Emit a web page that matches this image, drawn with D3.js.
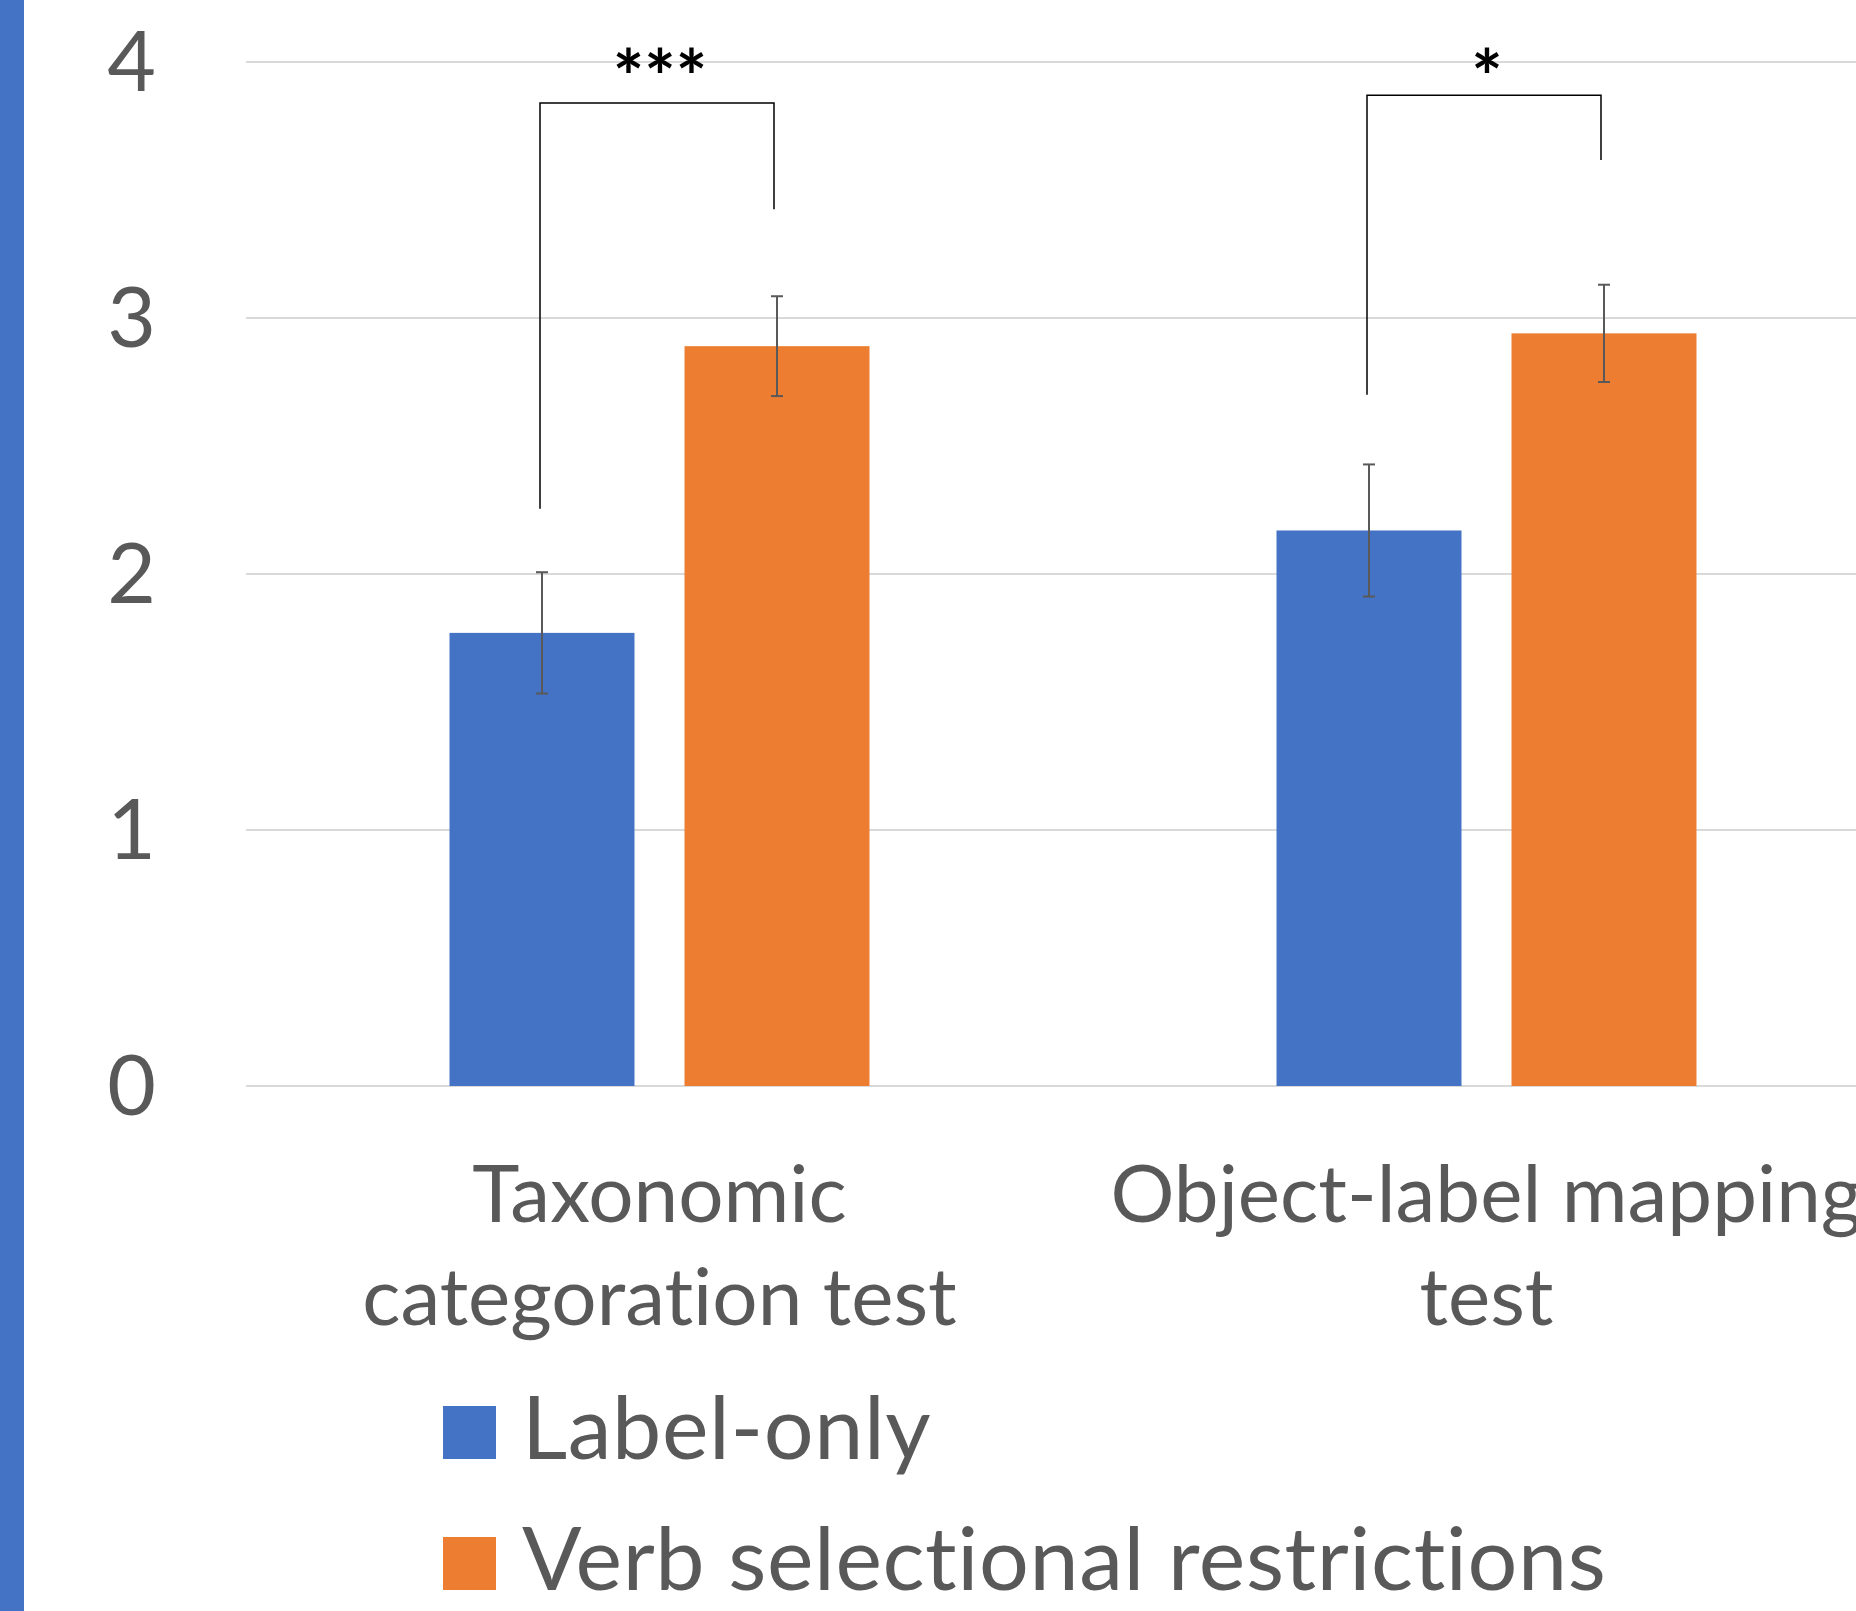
<!DOCTYPE html>
<html>
<head>
<meta charset="utf-8">
<script src="https://cdn.jsdelivr.net/npm/d3@7"></script>
<style>
    html, body { margin: 0; padding: 0; background: #ffffff; }
    svg { display: block; }
    text { font-variant-ligatures: none; font-feature-settings: "liga" 0, "clig" 0; }
</style>
</head>
<body>
<div id="chart"></div>
<script>
// Chart data
const categories = ['Taxonomic categoration test', 'Object-label mapping test'];
const categoryLines = [['Taxonomic', 'categoration test'], ['Object-label mapping', 'test']];
const seriesNames = ['Label-only', 'Verb selectional restrictions'];
const labelOnlyValues = [1.77, 2.17];
const labelOnlyErrors = [0.237, 0.258];
const verbValues = [2.89, 2.94];
const verbErrors = [0.195, 0.19];
const yTicks = [0, 1, 2, 3, 4];

// significance brackets (in value units)
const sigLabels = ['***', '*'];
const sigTop = [3.84, 3.87];
const sigLeftEnd = [2.255, 2.70];
const sigRightEnd = [3.425, 3.617];

function renderBarChart(containerId) {
    // ============================================================================
    // STEP 1: SETUP
    // ============================================================================
    const container = d3.select(`#${containerId}`);
    container.selectAll('*').remove();

    const width = 1856;
    const height = 1611;
    const font = 'Lato, "Open Sans", sans-serif';
    const textColor = '#595959';

    const svg = container.append('svg')
        .attr('width', width)
        .attr('height', height);

    svg.append('rect')
        .attr('width', width)
        .attr('height', height)
        .attr('fill', '#ffffff');

    // blue strip on the left edge
    svg.append('rect')
        .attr('x', 0)
        .attr('y', 0)
        .attr('width', 24)
        .attr('height', height)
        .attr('fill', '#4472C4');

    // ============================================================================
    // STEP 2: SCALES
    // ============================================================================
    const y = d3.scaleLinear()
        .domain([0, 4])
        .range([1086, 62]);

    const x0 = d3.scaleBand()
        .domain(categories)
        .range([246, 1900])
        .padding(0);

    const x1 = d3.scaleBand()
        .domain(seriesNames)
        .range([0, x0.bandwidth()])
        .paddingInner(0.2128)
        .paddingOuter(0.866);

    const color = d3.scaleOrdinal()
        .domain(seriesNames)
        .range(['#4472C4', '#ED7D31']);

    const rows = categories.map((c, i) => ({
        category: c,
        values: [
            { series: seriesNames[0], value: labelOnlyValues[i], err: labelOnlyErrors[i] },
            { series: seriesNames[1], value: verbValues[i], err: verbErrors[i] }
        ]
    }));

    // ============================================================================
    // STEP 3: GRIDLINES AND Y TICK LABELS
    // ============================================================================
    svg.append('g')
        .selectAll('line')
        .data(yTicks)
        .enter()
        .append('line')
        .attr('x1', 246)
        .attr('x2', width)
        .attr('y1', d => y(d))
        .attr('y2', d => y(d))
        .attr('stroke', '#D9D9D9')
        .attr('stroke-width', 2);

    svg.append('g')
        .selectAll('text')
        .data(yTicks)
        .enter()
        .append('text')
        .attr('x', 156)
        .attr('y', d => y(d) + 29)
        .attr('text-anchor', 'end')
        .style('font-family', font)
        .style('font-size', '84px')
        .style('fill', textColor)
        .text(d => d);

    // ============================================================================
    // STEP 4: BARS AND ERROR BARS
    // ============================================================================
    const groups = svg.selectAll('.group')
        .data(rows)
        .enter()
        .append('g')
        .attr('class', 'group')
        .attr('transform', d => `translate(${x0(d.category)},0)`);

    groups.selectAll('rect')
        .data(d => d.values)
        .enter()
        .append('rect')
        .attr('x', d => x1(d.series))
        .attr('y', d => y(d.value))
        .attr('width', x1.bandwidth())
        .attr('height', d => y(0) - y(d.value))
        .attr('fill', d => color(d.series));

    const errs = groups.selectAll('.err')
        .data(d => d.values)
        .enter()
        .append('g')
        .attr('class', 'err')
        .attr('stroke', '#595959')
        .attr('stroke-width', 2);

    const cx = d => x1(d.series) + x1.bandwidth() / 2;

    errs.append('line')
        .attr('x1', cx).attr('x2', cx)
        .attr('y1', d => y(d.value + d.err))
        .attr('y2', d => y(d.value - d.err));
    errs.append('line')
        .attr('x1', d => cx(d) - 6).attr('x2', d => cx(d) + 6)
        .attr('y1', d => y(d.value + d.err))
        .attr('y2', d => y(d.value + d.err));
    errs.append('line')
        .attr('x1', d => cx(d) - 6).attr('x2', d => cx(d) + 6)
        .attr('y1', d => y(d.value - d.err))
        .attr('y2', d => y(d.value - d.err));

    // ============================================================================
    // STEP 5: SIGNIFICANCE BRACKETS
    // ============================================================================
    categories.forEach((c, i) => {
        const left = x0(c) + x1(seriesNames[0]) + x1.bandwidth() / 2 - 2;
        const right = x0(c) + x1(seriesNames[1]) + x1.bandwidth() / 2 - 3;
        const path = d3.path();
        path.moveTo(left, y(sigLeftEnd[i]));
        path.lineTo(left, y(sigTop[i]));
        path.lineTo(right, y(sigTop[i]));
        path.lineTo(right, y(sigRightEnd[i]));

        svg.append('path')
            .attr('d', path.toString())
            .attr('fill', 'none')
            .attr('stroke', '#000000')
            .attr('stroke-width', 1.5);

        svg.append('text')
            .attr('x', (left + right) / 2 + 3)
            .attr('y', y(4) + 42)
            .attr('text-anchor', 'middle')
            .style('font-family', font)
            .style('font-size', '74px')
            .style('font-weight', 'bold')
            .style('fill', '#000000')
            .text(sigLabels[i]);
    });

    // ============================================================================
    // STEP 6: CATEGORY LABELS
    // ============================================================================
    categories.forEach((c, i) => {
        const label = svg.append('text')
            .attr('text-anchor', 'middle')
            .style('font-family', font)
            .style('font-size', '80px')
            .style('fill', textColor);
        categoryLines[i].forEach((line, j) => {
            label.append('tspan')
                .attr('x', x0(c) + x0.bandwidth() / 2)
                .attr('y', 1222 + j * 103)
                .text(line);
        });
    });

    // ============================================================================
    // STEP 7: LEGEND
    // ============================================================================
    const legend = svg.append('g')
        .attr('transform', 'translate(443, 1406)');

    seriesNames.forEach((name, i) => {
        const row = legend.append('g')
            .attr('transform', `translate(0, ${i * 131})`);

        row.append('rect')
            .attr('width', 53)
            .attr('height', 53)
            .attr('fill', color(name));

        row.append('text')
            .attr('x', 79)
            .attr('y', 53)
            .style('font-family', font)
            .style('font-size', '88px')
            .style('letter-spacing', '0.6px')
            .style('fill', textColor)
            .text(name);
    });
}

renderBarChart('chart');
</script>
</body>
</html>
